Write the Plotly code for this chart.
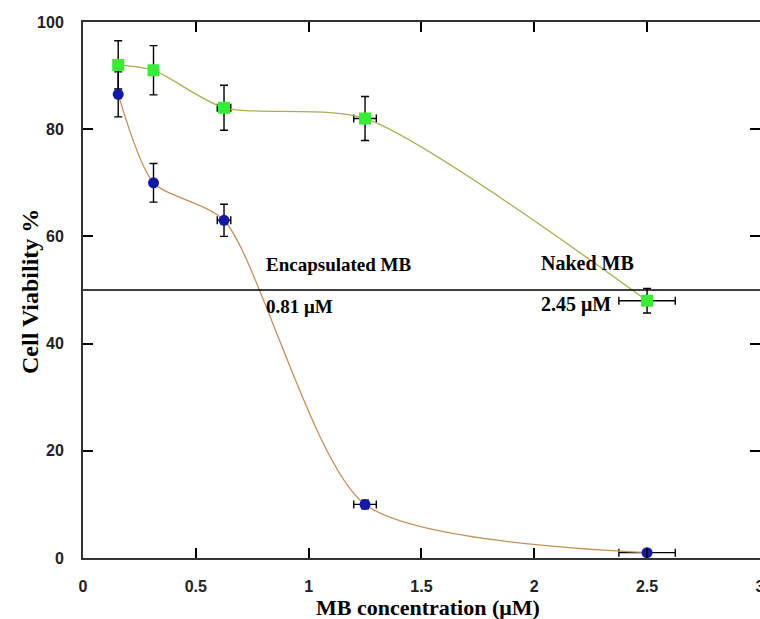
import plotly.graph_objects as go

# Data
conc = [0.156, 0.3125, 0.625, 1.25, 2.5]
naked_mb = [92, 91, 84, 82, 48]
naked_err_y = [4.5, 4.6, 4.2, 4.1, 2.3]
naked_err_x = [0.0, 0.0, 0.03, 0.05, 0.125]
encap_mb = [86.5, 70, 63, 10, 1]
encap_err_y = [4.2, 3.6, 3.0, 0.8, 0.5]
encap_err_x = [0.0, 0.0, 0.03, 0.05, 0.125]
x_ticks = [0, 0.5, 1, 1.5, 2, 2.5, 3]
x_ticklabels = ["0", "0.5", "1", "1.5", "2", "2.5", "3"]
y_ticks = [0, 20, 40, 60, 80, 100]
threshold = 50

serif = "Liberation Serif, Times New Roman, serif"
sans = "Liberation Sans, Arial, sans-serif"

fig = go.Figure()

fig.add_trace(go.Scatter(
    x=conc, y=naked_mb, mode="lines+markers", name="Naked MB",
    line=dict(color="#a9ae50", width=1.3, shape="spline", smoothing=0.7),
    marker=dict(symbol="square", size=12, color="#35ee35"),
    error_y=dict(type="data", array=naked_err_y, color="black", thickness=1.4, width=4),
    error_x=dict(type="data", array=naked_err_x, color="black", thickness=1.4, width=4),
))
fig.add_trace(go.Scatter(
    x=conc, y=encap_mb, mode="lines+markers", name="Encapsulated MB",
    line=dict(color="#c4915a", width=1.3, shape="spline", smoothing=0.7),
    marker=dict(symbol="circle", size=11, color="#1218a8"),
    error_y=dict(type="data", array=encap_err_y, color="black", thickness=1.4, width=4),
    error_x=dict(type="data", array=encap_err_x, color="black", thickness=1.4, width=4),
))

# dummy trace for right-side ticks
fig.add_trace(go.Scatter(x=[None], y=[None], yaxis="y2", showlegend=False))

fig.add_shape(type="line", xref="paper", x0=0, x1=1, yref="y", y0=threshold, y1=threshold,
              line=dict(color="black", width=1.5))

tickfont = dict(family=sans, size=16, color="#222", weight="bold")

fig.update_layout(
    template="none",
    width=760, height=619,
    margin=dict(l=83, r=0, t=22, b=61),
    paper_bgcolor="white", plot_bgcolor="white",
    showlegend=False,
    xaxis=dict(range=[0, 3.0005], tickvals=x_ticks, ticktext=x_ticklabels,
               ticks="inside", ticklen=10, tickwidth=1.5, tickcolor="black",
               showline=True, linecolor="#333", linewidth=2, mirror="ticks",
               showgrid=False, zeroline=False, automargin=False,
               ticklabeloverflow="allow",
               ticklabelstandoff=13, tickfont=tickfont),
    yaxis=dict(range=[0, 100], tickvals=y_ticks,
               ticks="inside", ticklen=10, tickwidth=1.5, tickcolor="black",
               showline=True, linecolor="#333", linewidth=2,
               showgrid=False, zeroline=False, automargin=False,
               ticklabelstandoff=14, tickfont=tickfont),
    yaxis2=dict(range=[0, 100], tickvals=y_ticks, overlaying="y", side="right",
                ticks="inside", ticklen=10, tickwidth=1.5, tickcolor="black",
                showticklabels=False, showline=False, showgrid=False, zeroline=False,
                automargin=False),
    annotations=[
        dict(text="<b>MB concentration (μM)</b>", xref="paper", yref="paper",
             x=(428 - 83) / 677, y=-(607 - 558) / 536, showarrow=False,
             font=dict(family=serif, size=22, color="black"), xanchor="center", yanchor="middle"),
        dict(text="<b>Cell Viability %</b>", xref="paper", yref="paper",
             x=-(83 - 30) / 677, y=(558 - 292) / 536, showarrow=False, textangle=-90,
             font=dict(family=serif, size=24, color="black"), xanchor="center", yanchor="middle"),
        dict(text="<b>Encapsulated MB</b>", x=0.8, y=54.7, xref="x", yref="y", showarrow=False,
             xanchor="left", yanchor="middle", font=dict(family=serif, size=19, color="black")),
        dict(text="<b>0.81 μM</b>", x=0.8, y=47.0, xref="x", yref="y", showarrow=False,
             xanchor="left", yanchor="middle", font=dict(family=serif, size=19, color="black")),
        dict(text="<b>Naked MB</b>", x=2.02, y=55.0, xref="x", yref="y", showarrow=False,
             xanchor="left", yanchor="middle", font=dict(family=serif, size=20, color="black")),
        dict(text="<b>2.45 μM</b>", x=2.02, y=47.3, xref="x", yref="y", showarrow=False,
             xanchor="left", yanchor="middle", font=dict(family=serif, size=20, color="black")),
    ],
)

fig.write_html("out.html")
